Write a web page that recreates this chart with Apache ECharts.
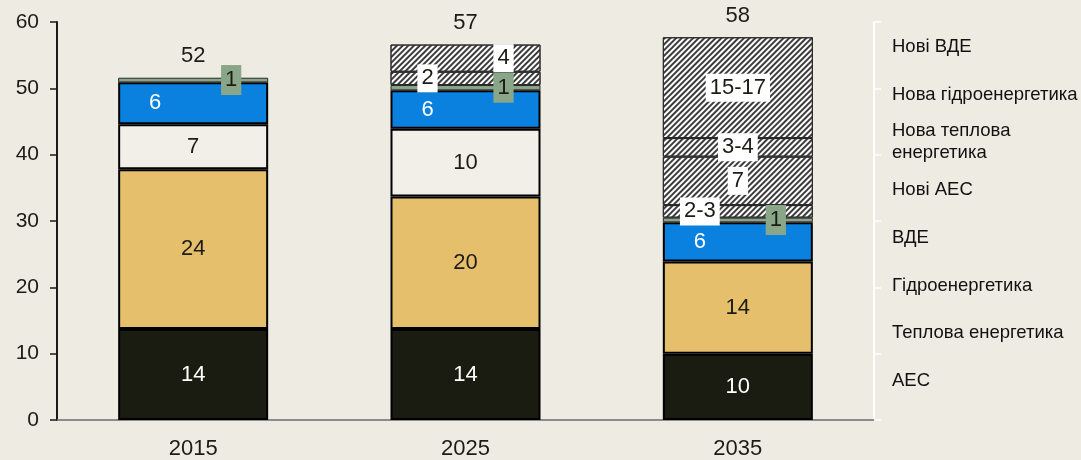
<!DOCTYPE html>
<html>
<head>
<meta charset="utf-8">
<script src="https://cdn.jsdelivr.net/npm/echarts@6/dist/echarts.min.js"></script>
<style>
html, body { margin: 0; padding: 0; background: #eeebe3; }
#chart { width: 1081px; height: 460px; }
</style>
</head>
<body>
<div id="chart"></div>
<script>
// values (bottom to top in each bar)
const years = ['2015', '2025', '2035'];
const nuclear = [13.7, 13.7, 10.0];
const thermal = [24.1, 20.0, 13.9];
const thermalOther = [6.8, 10.2, null];
const hydro = [6.3, 5.8, 5.9];
const renewables = [0.7, 0.8, 0.7];
const newNuclear = [null, 2.0, 1.9];
const newThermal = [null, null, 7.3];
const newHydro = [null, null, 2.8];
const newRenewables = [null, 4.1, 15.2];
const totals = [52, 57, 58];

const nuclearLabels = ['14', '14', '10'];
const thermalLabels = ['24', '20', '14'];
const thermalOtherLabels = ['7', '10', ''];
const hydroLabels = ['6', '6', '6'];
const renewablesLabels = ['1', '1', '1'];
const newNuclearLabels = ['', '2', '2-3'];
const newThermalLabels = ['', '', '7'];
const newHydroLabels = ['', '', '3-4'];
const newRenewablesLabels = ['', '4', '15-17'];

const yTicks = [0, 10, 20, 30, 40, 50, 60];
const sideLabels = ['АЕС', 'Теплова енергетика', 'Гідроенергетика', 'ВДЕ', 'Нові АЕС',
    'Нова теплова\nенергетика', 'Нова гідроенергетика', 'Нові ВДЕ'];

const FONT = 'Liberation Sans, Arial, sans-serif';
const DARK = '#1c1c14';
const FS = 22;
const BAR_W = 150;

const hatch = {
    symbol: 'rect',
    symbolSize: 1,
    dashArrayX: [1, 0],
    dashArrayY: [1.7, 1.9],
    rotation: -Math.PI / 4,
    color: '#3c3c3c'
};

function items(values, labels, shifts) {
    return values.map((v, i) => ({
        value: v,
        label: { formatter: labels[i], offset: shifts ? shifts[i] : [0, 0] }
    }));
}

function solid(name, values, labels, color, textColor, shifts) {
    return {
        name, type: 'bar', stack: 'total', barWidth: BAR_W,
        data: items(values, labels, shifts),
        itemStyle: { color, borderColor: '#000', borderWidth: 2 },
        label: { show: true, position: 'inside', color: textColor, fontSize: FS, fontFamily: FONT }
    };
}

function hatched(name, values, labels, shifts) {
    return {
        name, type: 'bar', stack: 'total', barWidth: BAR_W,
        data: items(values, labels, shifts),
        itemStyle: { color: '#fff', borderColor: '#2a2a2a', borderWidth: 1, decal: hatch },
        label: {
            show: true, position: 'inside', color: DARK, fontSize: FS, fontFamily: FONT,
            backgroundColor: '#fff', padding: [3, 4]
        }
    };
}

const series = [
    solid('АЕС', nuclear, nuclearLabels, '#1b1c11', '#fff'),
    solid('Теплова енергетика', thermal, thermalLabels, '#e5bf6c', DARK),
    solid('Теплова енергетика 2', thermalOther, thermalOtherLabels, '#f2efe9', DARK),
    solid('Гідроенергетика', hydro, hydroLabels, '#0a80df', '#fff', [[-38, 0], [-38, 0], [-38, 0]]),
    {
        name: 'ВДЕ', type: 'bar', stack: 'total', barWidth: BAR_W,
        data: items(renewables, renewablesLabels, [[38, 0], [38, 0], [38, 0]]),
        itemStyle: { color: '#8aa688', borderColor: '#2a2a2a', borderWidth: 1 },
        label: {
            show: true, position: 'inside', color: DARK, fontSize: FS, fontFamily: FONT,
            backgroundColor: '#8aa688', padding: [4, 4]
        }
    },
    hatched('Нові АЕС', newNuclear, newNuclearLabels, [[0, 0], [-38, 0], [-38, 0]]),
    hatched('Нова теплова енергетика', newThermal, newThermalLabels),
    hatched('Нова гідроенергетика', newHydro, newHydroLabels),
    hatched('Нові ВДЕ', newRenewables, newRenewablesLabels, [[0, 0], [38, 0], [0, 0]]),
    {
        name: 'total', type: 'bar', barWidth: BAR_W, barGap: '-100%', silent: true, z: 1,
        data: totals,
        itemStyle: { color: 'rgba(0,0,0,0)' },
        label: { show: true, position: 'top', distance: 8, color: DARK, fontSize: FS, fontFamily: FONT }
    }
];

const chart = echarts.init(document.getElementById('chart'));
chart.setOption({
    backgroundColor: '#eeebe3',
    animation: false,
    grid: [
        { left: 57, right: 207, top: 22, bottom: 39 },
        { left: 885, width: 196, top: 23, height: 382 }
    ],
    xAxis: [
        {
            type: 'category', data: years, gridIndex: 0,
            axisLine: { lineStyle: { color: '#6e6e6e', width: 1.5 } },
            axisTick: { show: false },
            axisLabel: { color: DARK, fontSize: FS, fontFamily: FONT, margin: 18 }
        },
        { type: 'value', gridIndex: 1, show: false }
    ],
    yAxis: [
        {
            type: 'value', gridIndex: 0, min: yTicks[0], max: yTicks[yTicks.length - 1], interval: 10,
            axisLine: { show: true, lineStyle: { color: '#1a1a1a', width: 2 } },
            axisTick: { show: true, length: 7, lineStyle: { color: '#1a1a1a', width: 1.5 } },
            axisLabel: { color: DARK, fontSize: 21, fontFamily: FONT, margin: 18 },
            splitLine: { show: false }
        },
        {
            type: 'value', gridIndex: 0, position: 'right', min: 0, max: 60, interval: 10,
            axisLine: { show: true, lineStyle: { color: '#ffffff', width: 2 } },
            axisTick: { show: true, length: 7, lineStyle: { color: '#ffffff', width: 1.5 } },
            axisLabel: { show: false },
            splitLine: { show: false }
        },
        {
            type: 'category', gridIndex: 1, position: 'left',
            data: sideLabels.map(s => s.indexOf('\n') >= 0
                ? { value: s, textStyle: { padding: [22, 0, 0, 0] } }
                : s),
            axisLine: { show: false },
            axisTick: { show: false },
            axisLabel: {
                inside: true, align: 'left', margin: 7, color: '#111', fontSize: 18.5,
                lineHeight: 22, fontFamily: FONT
            }
        }
    ],
    series
});
</script>
</body>
</html>
